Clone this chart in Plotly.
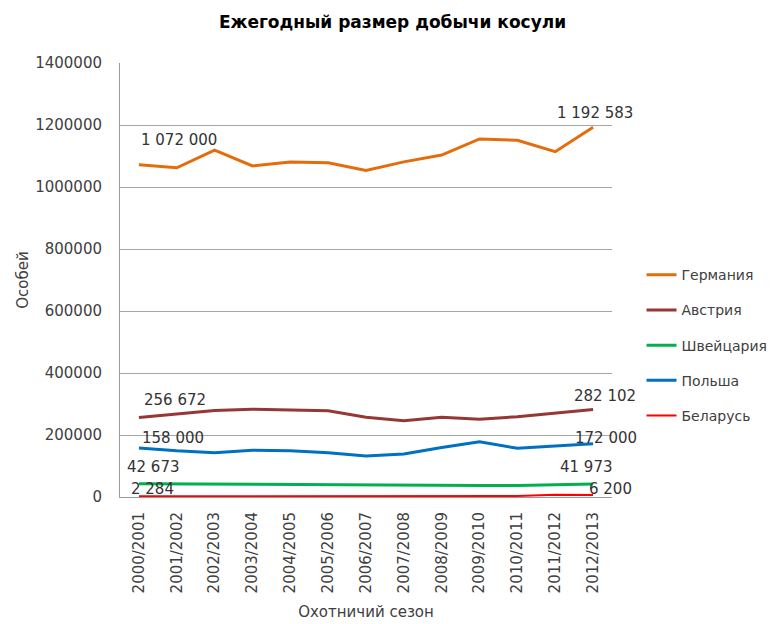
import plotly.graph_objects as go

seasons = ["2000/2001", "2001/2002", "2002/2003", "2003/2004", "2004/2005", "2005/2006",
           "2006/2007", "2007/2008", "2008/2009", "2009/2010", "2010/2011", "2011/2012", "2012/2013"]

germany = [1072000, 1062000, 1119000, 1068000, 1081000, 1078000, 1053000, 1081000, 1103000,
           1155000, 1151000, 1114000, 1192583]
austria = [256672, 267000, 279000, 283000, 281000, 278000, 257000, 246000, 257000, 251000,
           259000, 270000, 282102]
switzerland = [42673, 42000, 41000, 40500, 38500, 38000, 38000, 37500, 37500, 37000, 37500,
               40500, 41973]
poland = [158000, 149000, 143000, 151000, 149000, 143000, 132000, 139000, 160000, 178000,
          157000, 164000, 172000]
belarus = [2284, 2300, 2400, 2500, 2500, 2600, 2700, 2800, 3000, 3200, 3500, 7500, 6200]

series_names = ["Германия", "Австрия", "Швейцария", "Польша", "Беларусь"]
series_values = [germany, austria, switzerland, poland, belarus]
series_colors = ["#E46C0A", "#953735", "#00B050", "#0070C0", "#FF0000"]
series_widths = [3, 3, 3, 3, 2]

y_ticks = [0, 200000, 400000, 600000, 800000, 1000000, 1200000, 1400000]

# data labels: (series index, point index, text, xshift, yshift)
labels = [
    (0, 0, "1 072 000", 40, 25), (0, 12, "1 192 583", 2, 14),
    (1, 0, "256 672", 36, 17), (1, 12, "282 102", 12, 14),
    (3, 0, "158 000", 34, 10), (3, 12, "172 000", 13, 6),
    (2, 0, "42 673", 15, 17), (2, 12, "41 973", -7, 17),
    (4, 0, "2 284", 14, 7), (4, 12, "6 200", 17, 6),
]

FONT = "DejaVu Sans"
TXT = "#404040"

fig = go.Figure()
for i, (name, vals, col, w) in enumerate(zip(series_names, series_values, series_colors, series_widths)):
    fig.add_trace(go.Scatter(
        x=seasons, y=vals, mode="lines", name=name,
        line=dict(color=col, width=w), legendgroup=f"g{i}",
    ))

for si, pi, txt, xs, ys in labels:
    fig.add_annotation(x=seasons[pi], y=series_values[si][pi], text=txt, showarrow=False,
                       xshift=xs, yshift=ys, font=dict(family=FONT, size=15, color="#333333"))

fig.update_layout(
    width=769, height=616,
    margin=dict(l=112, r=165, t=55, b=127, autoexpand=False),
    paper_bgcolor="white", plot_bgcolor="white",
    title=dict(text="<b>Ежегодный размер добычи косули</b>", x=0.5, xanchor="center",
               xref="container", y=1 - 14 / 616, yref="container", yanchor="middle",
               font=dict(family=FONT, size=17, color="#000000")),
    font=dict(family=FONT, size=15, color=TXT),
    legend=dict(x=1.06, xanchor="left", y=0.548, yanchor="top", traceorder="grouped",
                tracegroupgap=14, font=dict(family=FONT, size=14, color=TXT),
                bgcolor="rgba(0,0,0,0)"),
    showlegend=True,
)

fig.update_xaxes(
    type="category", range=[-0.5, 12.5], tickangle=-90, automargin=False,
    showgrid=False, showline=True, linecolor="#9a9a9a", linewidth=1,
    ticks="", ticklabelstandoff=8,
    tickfont=dict(family=FONT, size=15, color=TXT),
    title=dict(text="Охотничий сезон", font=dict(family=FONT, size=15, color=TXT), standoff=14),
)
fig.update_yaxes(
    range=[0, 1400000], tickvals=y_ticks, ticktext=[str(v) for v in y_ticks],
    showgrid=True, gridcolor="#a6a6a6", gridwidth=1, automargin=False,
    showline=True, linecolor="#9a9a9a", linewidth=1, zeroline=False,
    ticks="", ticklabelstandoff=14,
    tickfont=dict(family=FONT, size=15, color=TXT),
    title=dict(text="Особей", font=dict(family=FONT, size=15, color=TXT), standoff=2),
)

fig.write_html("out.html")
